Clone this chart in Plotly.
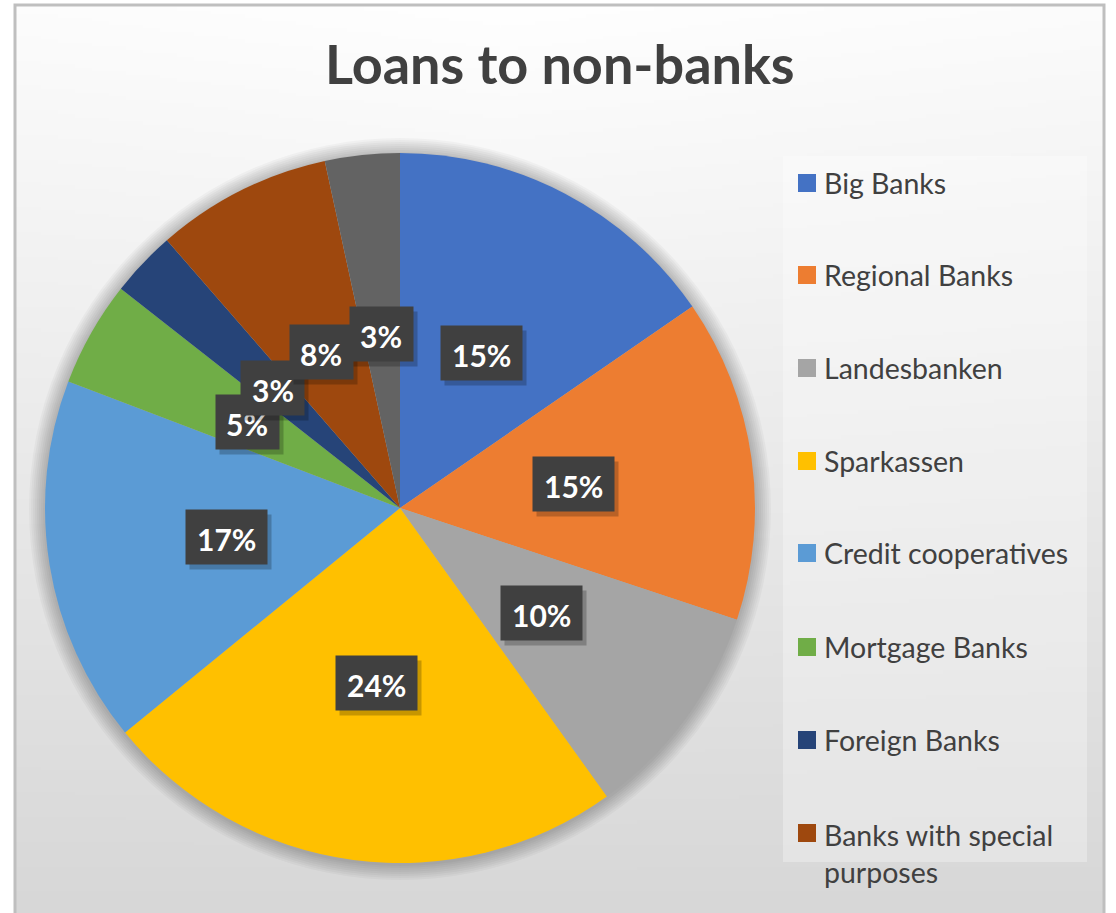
import base64
import math
import struct
import zlib

import numpy as np
import plotly.graph_objects as go

# ---- data -----------------------------------------------------------------
groups = [
    "Big Banks",
    "Regional Banks",
    "Landesbanken",
    "Sparkassen",
    "Credit cooperatives",
    "Mortgage Banks",
    "Foreign Banks",
    "Banks with special purposes",
    "Other banks",
]
shares = [15.4, 14.7, 10.0, 24.0, 16.7, 4.8, 3.0, 8.0, 3.4]
colors = [
    "#4472C4", "#ED7D31", "#A5A5A5", "#FFC000", "#5B9BD5",
    "#70AD47", "#264478", "#9E480E", "#636363",
]
legend_count = 8  # entries that fit inside the legend box

# ---- canvas geometry (pixels) ---------------------------------------------
W, H = 1116, 913
cx, cy, R = 400, 508, 355          # pie centre / radius
FONT = "Lato"
TXT = "#404040"


def px(x):
    return x / W


def py(y):
    return 1 - y / H


def gradient_png(w, h):
    """Soft vertical grey gradient used as the chart-area fill."""
    yy = np.linspace(0, 1, h)[:, None]
    xx = np.linspace(0, 1, w)[None, :]
    v = 255 - 40 * yy - 6 * np.abs(xx - 0.45) * (1 - yy)
    v = np.clip(v, 0, 255).astype(np.uint8)
    raw = b"".join(b"\x00" + bytes(np.repeat(row, 3)) for row in v)

    def chunk(tag, data):
        c = struct.pack(">I", len(data)) + tag + data
        return c + struct.pack(">I", zlib.crc32(tag + data) & 0xFFFFFFFF)

    png = b"\x89PNG\r\n\x1a\n"
    png += chunk(b"IHDR", struct.pack(">IIBBBBB", w, h, 8, 2, 0, 0, 0))
    png += chunk(b"IDAT", zlib.compress(raw, 9))
    png += chunk(b"IEND", b"")
    return "data:image/png;base64," + base64.b64encode(png).decode()


fig = go.Figure()

fig.add_trace(
    go.Pie(
        labels=groups,
        values=shares,
        sort=False,
        direction="clockwise",
        rotation=0,
        marker=dict(colors=colors, line=dict(width=0)),
        textinfo="none",
        hovertemplate="%{label}: %{percent}<extra></extra>",
        showlegend=False,
        domain=dict(x=[px(cx - R), px(cx + R)], y=[py(cy + R), py(cy - R)]),
    )
)

shapes = []
annotations = []

# frame around the chart area
shapes.append(dict(type="rect", xref="paper", yref="paper",
                   x0=px(15), x1=px(1104), y0=py(H + 10), y1=py(5),
                   line=dict(color="#BFBFBF", width=3), layer="below"))

# soft shadow around the pie
for k in range(1, 9):
    r = R + 2 * k
    shapes.append(dict(type="circle", xref="paper", yref="paper",
                       x0=px(cx - r), x1=px(cx + r),
                       y0=py(cy + r + 1), y1=py(cy - r + 1),
                       fillcolor="rgba(0,0,0,0.03)", line=dict(width=0),
                       layer="below"))

# legend panel
shapes.append(dict(type="rect", xref="paper", yref="paper",
                   x0=px(783), x1=px(1087), y0=py(862), y1=py(156),
                   fillcolor="rgba(255,255,255,0.3)", line=dict(width=0),
                   layer="below"))

# percentage labels in dark boxes at mid-angle, half radius
# (later slices' labels are stacked over earlier ones)
total = sum(shares)
cum = 0.0
for v in shares:
    mid = (cum + v / 2) / total * 2 * math.pi
    cum += v
    lx = cx + 0.495 * R * math.sin(mid)
    ly = cy - 0.495 * R * math.cos(mid) + 1
    pct = round(v / total * 100)
    common = dict(xref="paper", yref="paper", x=px(lx), y=py(ly),
                  xanchor="center", yanchor="middle", showarrow=False)
    box = dict(common, text="", width=79 if pct >= 10 else 61, height=52)
    annotations.append(dict(box, xshift=4, yshift=-5,
                            bgcolor="rgba(0,0,0,0.22)"))
    annotations.append(dict(box, bgcolor="#404040"))
    annotations.append(dict(common, text=f"<b>{pct:d}%</b>", yshift=-2,
                            font=dict(family=FONT, size=30, color="white")))

# legend entries
legend_y = [183, 275, 368, 461, 553, 647, 740, 853]
for name, col, y in zip(groups[:legend_count], colors[:legend_count], legend_y):
    label = name
    sq_y = y
    if name == "Banks with special purposes":
        label = "Banks with special<br>purposes"
        sq_y = 833
    shapes.append(dict(type="rect", xref="paper", yref="paper",
                       x0=px(798), x1=px(816), y0=py(sq_y + 9), y1=py(sq_y - 9),
                       fillcolor=col, line=dict(width=0)))
    annotations.append(dict(xref="paper", yref="paper", x=px(822), y=py(y),
                            xanchor="left", yanchor="middle", align="left",
                            showarrow=False, text=label,
                            font=dict(family=FONT, size=28.5, color=TXT)))

# title
annotations.append(dict(xref="paper", yref="paper", x=px(560), y=py(64),
                        xanchor="center", yanchor="middle", showarrow=False,
                        text="<b>Loans to non-banks</b>",
                        font=dict(family=FONT, size=54, color=TXT)))

fig.update_layout(
    width=W,
    height=H,
    margin=dict(l=0, r=0, t=0, b=0),
    paper_bgcolor="white",
    plot_bgcolor="white",
    shapes=shapes,
    annotations=annotations,
    images=[dict(source=gradient_png(64, 256), xref="paper", yref="paper",
                 x=px(15), y=py(5), sizex=px(1104) - px(15), sizey=1,
                 xanchor="left", yanchor="top", sizing="stretch",
                 layer="below")],
)

fig.write_html("out.html")
